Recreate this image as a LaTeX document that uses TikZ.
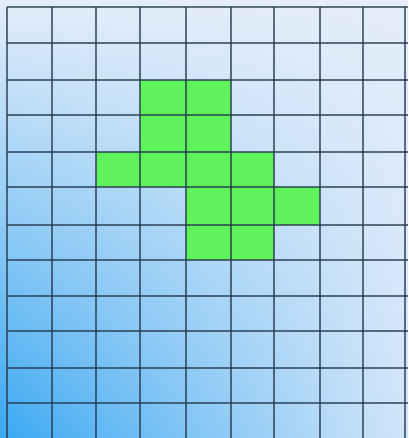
\documentclass[tikz,border=0pt]{standalone}
\usepackage{tikz}
\usetikzlibrary{shadings}
\definecolor{bgTL}{RGB}{228,237,249}
\definecolor{bgTR}{RGB}{228,237,249}
\definecolor{bgBL}{RGB}{58,168,242}
\definecolor{bgBR}{RGB}{210,229,249}
\definecolor{cellgreen}{RGB}{96,242,90}
\definecolor{gridcol}{RGB}{35,55,75}
\tikzset{
  gridline/.style={draw=gridcol, draw opacity=0.7, line width=1.5pt},
  cellfill/.style={fill=cellgreen}
}
\begin{document}
\begin{tikzpicture}[x=0.75pt,y=-0.75pt]
\useasboundingbox (0,0) rectangle (408,438);
\shade[upper left=bgTL, upper right=bgTR, lower left=bgBL, lower right=bgBR] (0,0) rectangle (408,438);
% green cells: x0/x1/y0/y1
\foreach \xa/\xb/\ya/\yb in {140/231/80/152, 96/274/152/187, 186/320/187/225, 186/274/225/260}
  \fill[cellfill] (\xa,\ya) rectangle (\xb,\yb);
\foreach \x in {7,52,96,140,186,231,274,320,363,405}
  \draw[gridline] (\x,7) -- (\x,438);
\foreach \y in {7,43,80,115,152,187,225,260,296,331,368,403}
  \draw[gridline] (7,\y) -- (408,\y);
\end{tikzpicture}
\end{document}
